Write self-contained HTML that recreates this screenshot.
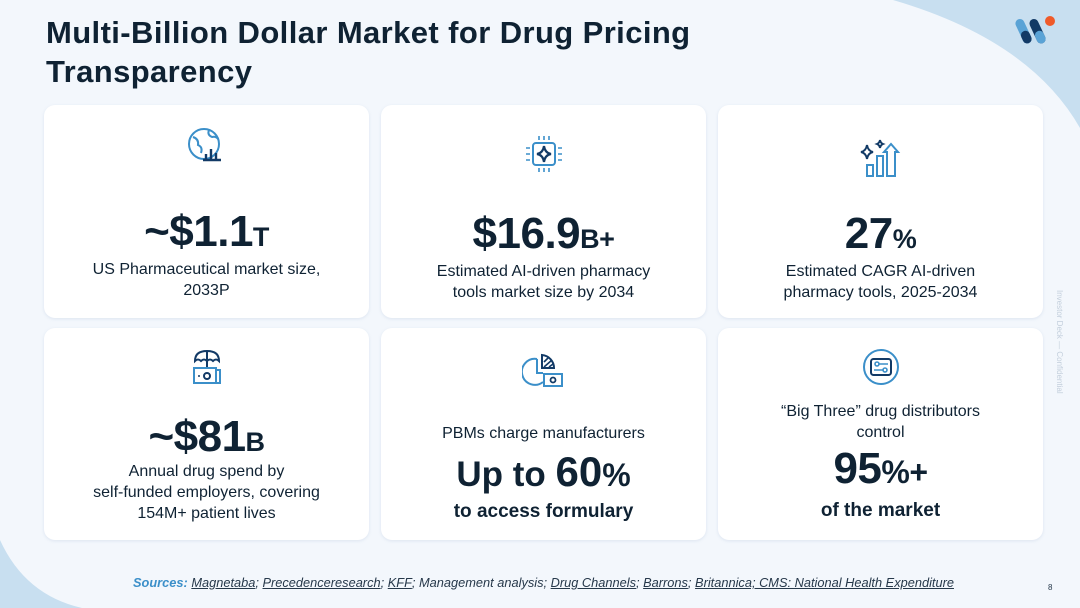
<!DOCTYPE html>
<html><head><meta charset="utf-8"><style>
*{margin:0;padding:0;box-sizing:border-box}
body{width:1080px;height:608px;overflow:hidden;position:relative;background:#f3f7fc;font-family:"Liberation Sans",sans-serif;color:#0f2233}
.abs{position:absolute}
.card{position:absolute;background:#fff;border-radius:11px;box-shadow:0 1px 3px rgba(120,150,190,.18)}
.ln{position:absolute;left:0;width:100%;text-align:center;white-space:nowrap}
.big{font-weight:700;font-size:44px;line-height:50px;letter-spacing:-0.5px}
.suf{font-size:27px}
.body{font-size:16px;line-height:20px}
.icon{position:absolute;left:50%;transform:translateX(-50%)}
</style></head><body>
<svg class="abs" style="left:0;top:0" width="1080" height="608">
<path d="M893 0 Q1030 40 1080 128 L1080 0 Z" fill="#c8dff0"/>
<path d="M0 540 Q25 595 82 608 L0 608 Z" fill="#c8dff0"/>
</svg>
<div class="abs" style="left:46px;top:13px;font-size:31px;font-weight:700;line-height:39px;letter-spacing:0.4px;white-space:nowrap">Multi-Billion Dollar Market for Drug Pricing<br>Transparency</div>
<svg class="abs" style="left:1012px;top:14px" width="46" height="34">
<g transform="rotate(-25 12 17)"><rect x="7" y="4" width="9" height="26" rx="4.5" fill="#5aa3d6"/><rect x="7" y="17" width="9" height="13" rx="4.5" fill="#123a66"/></g>
<g transform="rotate(-25 26 17)"><rect x="21" y="4" width="9" height="26" rx="4.5" fill="#123a66"/><rect x="21" y="17" width="9" height="13" rx="4.5" fill="#5aa3d6"/></g>
<circle cx="38" cy="7" r="5" fill="#ef5a2a"/>
</svg>
<div class="abs" style="left:1064px;top:290px;font-size:8px;color:#c3cfdc;transform:rotate(90deg);transform-origin:left top;white-space:nowrap">Investor Deck — Confidential</div>

<div class="card" style="left:44px;top:105px;width:325px;height:213px">
<svg class="icon" style="top:22px" width="40" height="40" viewBox="0 0 40 40"><circle cx="17" cy="17" r="15" fill="none" stroke="#3b8fc9" stroke-width="2"/><path d="M6 10 Q12 12 11 18 Q16 20 14 26 M22 3 Q20 8 25 10 Q29 9 31 12" fill="none" stroke="#3b8fc9" stroke-width="2"/><path d="M16 33 H34 M19 33 V27 M24 33 V22 M29 33 V26" stroke="#123a66" stroke-width="2.4" fill="none"/></svg>
<div class="ln big" style="top:102px">~$1.1<span class="suf">T</span></div>
<div class="ln body" style="top:155px">US Pharmaceutical market size,</div>
<div class="ln body" style="top:176px">2033P</div>
</div>

<div class="card" style="left:381px;top:105px;width:325px;height:213px">
<svg class="icon" style="top:28px" width="40" height="44" viewBox="0 0 40 44"><rect x="9" y="10" width="22" height="22" rx="3" fill="none" stroke="#3b8fc9" stroke-width="2"/><path d="M15 3v4M20 3v4M25 3v4M15 35v4M20 35v4M25 35v4M2 15h4M2 21h4M2 27h4M34 15h4M34 21h4M34 27h4" stroke="#3b8fc9" stroke-width="1.6"/><path d="M20 13 Q21 20 27 21 Q21 22 20 29 Q19 22 13 21 Q19 20 20 13Z" fill="none" stroke="#123a66" stroke-width="2.2"/></svg>
<div class="ln big" style="top:104px">$16.9<span class="suf">B+</span></div>
<div class="ln body" style="top:157px">Estimated AI-driven pharmacy</div>
<div class="ln body" style="top:178px">tools market size by 2034</div>
</div>

<div class="card" style="left:718px;top:105px;width:325px;height:213px">
<svg class="icon" style="top:32px" width="46" height="42" viewBox="0 0 46 42"><path d="M9 8 Q10 14 15 15 Q10 16 9 22 Q8 16 3 15 Q8 14 9 8Z M22 3 Q22.5 6 25 7 Q22.5 8 22 11 Q21.5 8 19 7 Q21.5 6 22 3Z" fill="none" stroke="#123a66" stroke-width="2"/><rect x="9" y="28" width="6" height="11" fill="none" stroke="#3b8fc9" stroke-width="2"/><rect x="19" y="19" width="6" height="20" fill="none" stroke="#3b8fc9" stroke-width="2"/><path d="M29 39 V15 H26 L33 7 L40 15 H37 V39 Z" fill="none" stroke="#3b8fc9" stroke-width="2"/></svg>
<div class="ln big" style="top:104px">27<span class="suf">%</span></div>
<div class="ln body" style="top:157px">Estimated CAGR AI-driven</div>
<div class="ln body" style="top:178px">pharmacy tools, 2025-2034</div>
</div>

<div class="card" style="left:44px;top:328px;width:325px;height:212px">
<svg class="icon" style="top:20px" width="34" height="38" viewBox="0 0 34 38"><path d="M5 13 Q5 3 17 3 Q29 3 29 13 Q26 10 23 13 Q20 10 17 13 Q14 10 11 13 Q8 10 5 13Z M17 3 V20" fill="none" stroke="#123a66" stroke-width="2"/><rect x="4" y="20" width="22" height="15" fill="none" stroke="#3b8fc9" stroke-width="2"/><path d="M26 22 H30 V35 H26" fill="none" stroke="#3b8fc9" stroke-width="2"/><circle cx="17" cy="28" r="3" fill="none" stroke="#123a66" stroke-width="2"/><circle cx="9" cy="28" r="1" fill="#123a66"/></svg>
<div class="ln big" style="top:84px">~$81<span class="suf">B</span></div>
<div class="ln body" style="top:134px">Annual drug spend by</div>
<div class="ln body" style="top:155px">self-funded employers, covering</div>
<div class="ln body" style="top:176px">154M+ patient lives</div>
</div>

<div class="card" style="left:381px;top:328px;width:325px;height:212px">
<svg class="icon" style="top:24px" width="44" height="40" viewBox="0 0 44 40"><path d="M15 7 A13 13 0 1 0 21 30" fill="none" stroke="#3b8fc9" stroke-width="2"/><path d="M15 7 V21 H21" fill="none" stroke="#3b8fc9" stroke-width="2"/><path d="M20 3 A13 13 0 0 1 32 16 H20Z" fill="none" stroke="#123a66" stroke-width="2"/><path d="M22 10 L27 5 M22 15 L30 8 M27 15 L31 12" stroke="#123a66" stroke-width="1.6"/><rect x="22" y="22" width="18" height="12" fill="none" stroke="#3b8fc9" stroke-width="2"/><circle cx="31" cy="28" r="2.5" fill="none" stroke="#123a66" stroke-width="1.8"/></svg>
<div class="ln body" style="top:96px">PBMs charge manufacturers</div>
<div class="ln" style="top:122px;font-weight:700;font-size:35px;line-height:44px"><span>Up to </span><span style="font-size:42px">60</span><span style="font-size:32px">%</span></div>
<div class="ln" style="top:172px;font-weight:700;font-size:19px;line-height:24px">to access formulary</div>
</div>

<div class="card" style="left:718px;top:328px;width:325px;height:212px">
<svg class="icon" style="top:20px" width="38" height="38" viewBox="0 0 38 38"><circle cx="19" cy="19" r="17" fill="none" stroke="#3b8fc9" stroke-width="2"/><rect x="9" y="11" width="20" height="16" rx="2.5" fill="none" stroke="#123a66" stroke-width="2"/><circle cx="15" cy="16" r="2" fill="none" stroke="#3b8fc9" stroke-width="1.6"/><circle cx="23" cy="22" r="2" fill="none" stroke="#3b8fc9" stroke-width="1.6"/><path d="M17 16 H26 M12 22 H21" stroke="#3b8fc9" stroke-width="1.6"/></svg>
<div class="ln body" style="top:74px">“Big Three” drug distributors</div>
<div class="ln body" style="top:95px">control</div>
<div class="ln big" style="top:116px">95<span class="suf" style="font-size:32px">%+</span></div>
<div class="ln" style="top:171px;font-weight:700;font-size:19px;line-height:24px">of the market</div>
</div>

<div class="abs" style="left:133px;top:575px;font-size:12.8px;font-style:italic;color:#26384a;white-space:nowrap"><b style="color:#3b8fc9">Sources:</b> <u>Magnetaba</u>; <u>Precedenceresearch</u>; <u>KFF</u>; Management analysis; <u>Drug Channels</u>; <u>Barrons</u>; <u>Britannica; CMS: National Health Expenditure</u></div>
<div class="abs" style="left:1048px;top:583px;font-size:8px;color:#26384a">8</div>
</body></html>
